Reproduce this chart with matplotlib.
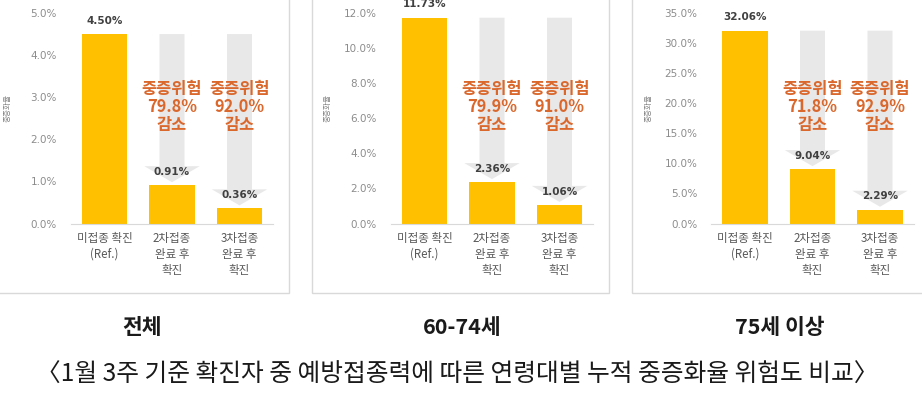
import matplotlib
matplotlib.use("Agg")
import matplotlib.pyplot as plt
from matplotlib.patches import Polygon, Rectangle
import matplotlib.transforms as mtransforms

plt.rcParams['font.family'] = ['Noto Sans CJK KR', 'DejaVu Sans']

# ---- data ----
categories = ["미접종 확진\n(Ref.)", "2차접종\n완료 후\n확진", "3차접종\n완료 후\n확진"]
values_all = [4.50, 0.91, 0.36]
values_6074 = [11.73, 2.36, 1.06]
values_75 = [32.06, 9.04, 2.29]
reduction_all = ["79.8%", "92.0%"]
reduction_6074 = ["79.9%", "91.0%"]
reduction_75 = ["71.8%", "92.9%"]
ymax_list = [5, 12, 35]
ystep_list = [1, 2, 5]
panel_titles = ["전체", "60-74세", "75세 이상"]
caption = "〈1월 3주 기준 확진자 중 예방접종력에 따른 연령대별 누적 중증화율 위험도 비교〉"
ylabel = "중증화율"

W, H = 922, 397
fig = plt.figure(figsize=(W / 100, H / 100), dpi=100)

def fx(px):
    return px / W

def fy(py):
    return 1 - py / H

# panel frames
frames = [(-2, 289), (312, 609), (632, 930)]
for x0, x1 in frames:
    fig.patches.append(Rectangle((fx(x0), fy(293)), fx(x1 - x0), 0.8,
                                 transform=fig.transFigure, fill=False,
                                 edgecolor="#d9d9d9", linewidth=1.0))

panel_lefts = [70.75, 390.75, 711.25]
title_centers = [142, 462, 780]
axes_w = 202.5
y0_px, ytop_px = 223.5, 13
datasets = [values_all, values_6074, values_75]
reductions = [reduction_all, reduction_6074, reduction_75]

bar_color = "#FFC000"
arrow_color = "#e8e8e8"
orange = "#DA672C"

for i in range(3):
    left = panel_lefts[i]
    ax = fig.add_axes([fx(left), fy(y0_px), fx(axes_w), (y0_px - ytop_px) / H])
    vals = datasets[i]
    ymax = ymax_list[i]
    ax.set_xlim(-0.5, 2.5)
    ax.set_ylim(0, ymax)
    px = ymax / (y0_px - ytop_px)  # data units per pixel

    # gray arrows behind bars 2 and 3
    for j in (1, 2):
        top = vals[0]
        tip = vals[j] + 3 * px
        head_start = tip + 16 * px
        sw, hw = 0.185, 0.41
        pts = [(j - sw, top), (j + sw, top), (j + sw, head_start), (j + hw, head_start),
               (j, tip), (j - hw, head_start), (j - sw, head_start)]
        ax.add_patch(Polygon(pts, closed=True, facecolor=arrow_color,
                             edgecolor="none", zorder=1))

    ax.bar(range(3), vals, width=0.67, color=bar_color, zorder=2)
    for j, v in enumerate(vals):
        ax.annotate(f"{v:.2f}%", (j, v), xytext=(0, 6), textcoords="offset points",
                    ha="center", va="bottom", fontsize=7.5, fontweight="bold",
                    color="#404040", family="DejaVu Sans", zorder=3,
                    annotation_clip=False)

    trans = mtransforms.blended_transform_factory(ax.transData, ax.transAxes)
    for k, r in enumerate(reductions[i]):
        ax.text(k + 1, 0.555, f"중증위험\n{r}\n감소", transform=trans,
                ha="center", va="center", fontsize=11.8, fontweight="bold",
                color=orange, linespacing=1.0, zorder=4)

    ticks = list(range(0, ymax + 1, ystep_list[i]))
    ax.set_yticks(ticks)
    ax.set_yticklabels([f"{t:.1f}%" for t in ticks],
                       fontsize=7.5, color="#8c8c8c", family="DejaVu Sans")
    ax.set_xticks(range(3))
    ax.set_xticklabels(categories, fontsize=8.3, color="#595959", linespacing=1.3)
    ax.tick_params(length=0, pad=6)
    ax.tick_params(axis="y", pad=10)
    for s in ("left", "right", "top"):
        ax.spines[s].set_visible(False)
    ax.spines["bottom"].set_color("#d9d9d9")
    ax.spines["bottom"].set_linewidth(0.8)
    ax.set_facecolor("none")
    ax.set_ylabel(ylabel, fontsize=5.5, color="#808080")
    ax.yaxis.set_label_coords(-0.29, 0.549)

    fig.text(fx(title_centers[i]), fy(328), panel_titles[i],
             ha="center", va="center", fontsize=15.5, fontweight="bold", color="#1a1a1a")

fig.text(fx(457), fy(375), caption, ha="center", va="center", fontsize=17.8, color="#1a1a1a")

fig.savefig("out.png", dpi=100, facecolor="white")
